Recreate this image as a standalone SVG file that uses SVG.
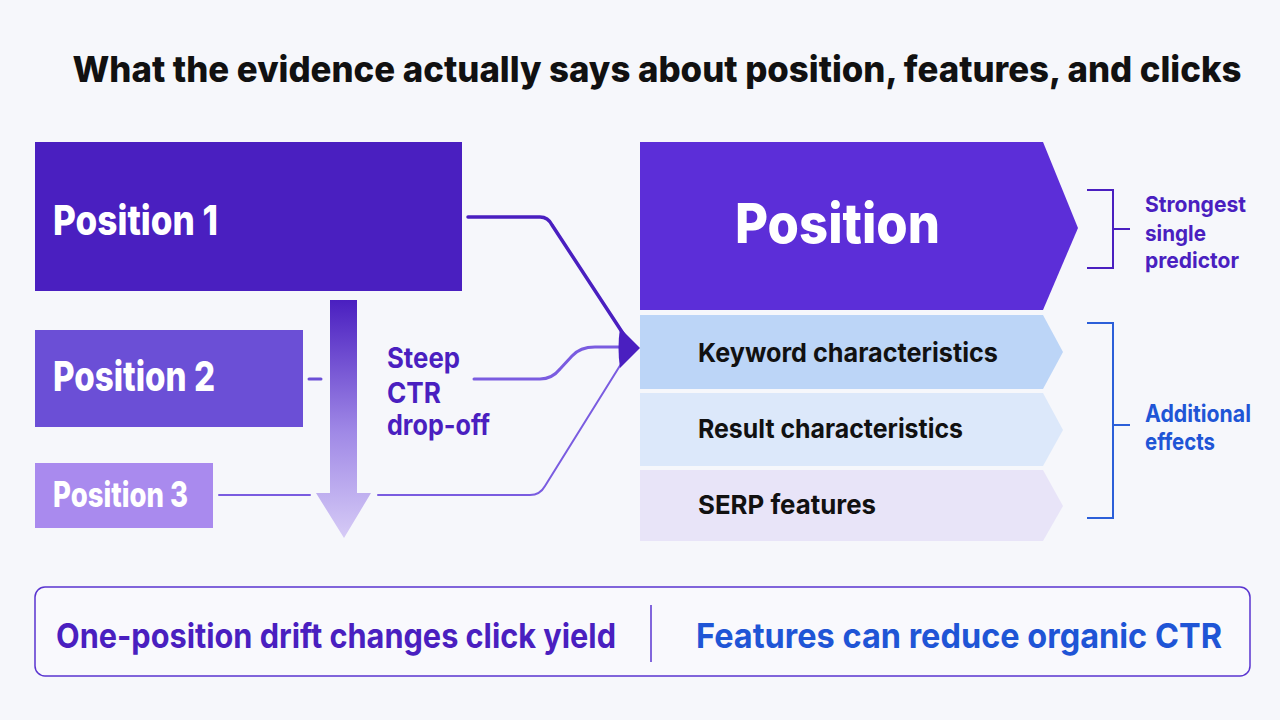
<svg xmlns="http://www.w3.org/2000/svg" width="1280" height="720" viewBox="0 0 1280 720">
<defs>
<linearGradient id="dropGrad" x1="0" y1="0" x2="0" y2="1">
<stop offset="0" stop-color="#4a1fc0"/>
<stop offset="0.55" stop-color="#9f88e6"/>
<stop offset="1" stop-color="#d6cbf6"/>
</linearGradient>
<style>
text{font-family:Inter,"Liberation Sans","DejaVu Sans",sans-serif;font-weight:700}
.h{font-weight:800}
.w{fill:#ffffff}
.k{fill:#111111}
.p{fill:#4a1fc0}
.b{fill:#1f55d6}
.conn{fill:none;stroke-linecap:round;stroke-linejoin:round}
</style>
</defs>
<rect x="0" y="0" width="1280" height="720" fill="#f6f7fb"/>
<text x="657" y="82" font-size="36" class="k h" text-anchor="middle" textLength="1169" lengthAdjust="spacingAndGlyphs">What the evidence actually says about position, features, and clicks</text>

<g id="position1">
<rect x="35" y="142" width="427" height="149" fill="#4a1fc0"/>
<text x="53" y="235" font-size="41" class="w h" textLength="165" lengthAdjust="spacingAndGlyphs">Position 1</text>
</g>
<g id="position2">
<rect x="35" y="330" width="268" height="97" fill="#6b4fd6"/>
<text x="53" y="391" font-size="41" class="w h" textLength="162" lengthAdjust="spacingAndGlyphs">Position 2</text>
</g>
<g id="position3">
<rect x="35" y="463" width="178" height="65" fill="#a98aee"/>
<text x="53" y="507" font-size="35" class="w h" textLength="135" lengthAdjust="spacingAndGlyphs">Position 3</text>
</g>

<g id="dropoff">
<path d="M330 300 H357 V493 H371 L344 538 L316 493 H330 Z" fill="url(#dropGrad)"/>
<text font-size="28" class="p"><tspan x="387" y="368" textLength="73" lengthAdjust="spacingAndGlyphs">Steep</tspan><tspan x="387" y="403" textLength="54" lengthAdjust="spacingAndGlyphs">CTR</tspan><tspan x="387" y="435" textLength="103" lengthAdjust="spacingAndGlyphs">drop-off</tspan></text>
</g>

<g id="connectors">
<path class="conn" d="M468 217 H540 Q548 217 552 225 L626 338" stroke="#4a1fc0" stroke-width="3.5"/>
<path class="conn" d="M309 379 H321" stroke="#6b4fd6" stroke-width="3"/>
<path class="conn" d="M474 379 H540 Q552 379 560 369 L572 356 Q580 347 595 347 H626" stroke="#7a5ce0" stroke-width="3"/>
<path class="conn" d="M219 495 H310" stroke="#7a5ce0" stroke-width="2"/>
<path class="conn" d="M378 495 H530 Q540 495 545 486 L626 356" stroke="#7a5ce0" stroke-width="2"/>
<path d="M620 328 L640 348 L620 368 Q617 348 620 328 Z" fill="#4a1fc0"/>
</g>

<g id="position">
<path d="M640 142 H1043 L1078 228 L1043 310 H640 Z" fill="#5c2ed8"/>
<text x="735" y="243" font-size="55" class="w h" textLength="205" lengthAdjust="spacingAndGlyphs">Position</text>
</g>
<g id="keyword">
<path d="M640 315 H1043 L1063 352 L1043 389 H640 Z" fill="#bcd5f7"/>
<text x="698" y="362" font-size="26" class="k" textLength="300" lengthAdjust="spacingAndGlyphs">Keyword characteristics</text>
</g>
<g id="result">
<path d="M640 393 H1043 L1063 430 L1043 466 H640 Z" fill="#dce8fa"/>
<text x="698" y="438" font-size="26" class="k" textLength="265" lengthAdjust="spacingAndGlyphs">Result characteristics</text>
</g>
<g id="serp">
<path d="M640 470 H1043 L1063 506 L1043 541 H640 Z" fill="#e8e4f8"/>
<text x="698" y="514" font-size="26" class="k" textLength="178" lengthAdjust="spacingAndGlyphs">SERP features</text>
</g>

<g id="strongest">
<path d="M1087 190 H1113 V268 H1087 M1113 229 H1130" fill="none" stroke="#4a1fc0" stroke-width="2"/>
<text font-size="22" class="p"><tspan x="1145" y="212" textLength="101" lengthAdjust="spacingAndGlyphs">Strongest</tspan><tspan x="1145" y="241" textLength="61" lengthAdjust="spacingAndGlyphs">single</tspan><tspan x="1145" y="268" textLength="94" lengthAdjust="spacingAndGlyphs">predictor</tspan></text>
</g>
<g id="additional">
<path d="M1087 323 H1113 V518 H1087 M1113 425 H1130" fill="none" stroke="#2b5fd9" stroke-width="2"/>
<text font-size="24" class="b"><tspan x="1145" y="422" textLength="106" lengthAdjust="spacingAndGlyphs">Additional</tspan><tspan x="1145" y="450" textLength="70" lengthAdjust="spacingAndGlyphs">effects</tspan></text>
</g>

<g id="summary">
<rect x="35" y="587" width="1215" height="89" rx="10" fill="#f9f9fd" stroke="#5a35d0" stroke-width="1.5"/>
<line x1="651" y1="605" x2="651" y2="662" stroke="#5a35d0" stroke-width="1.5"/>
<text x="56" y="648" font-size="34" class="p" textLength="560" lengthAdjust="spacingAndGlyphs">One-position drift changes click yield</text>
<text x="696" y="648" font-size="34" class="b" textLength="526" lengthAdjust="spacingAndGlyphs">Features can reduce organic CTR</text>
</g>
</svg>
